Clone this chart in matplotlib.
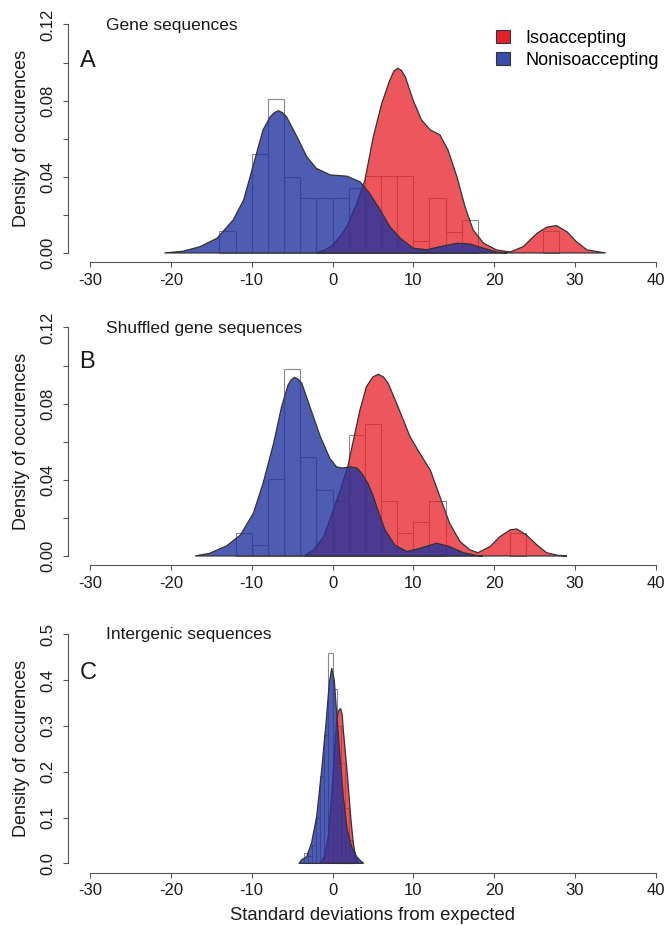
import matplotlib
matplotlib.use('Agg')
import matplotlib.pyplot as plt
from matplotlib.patches import Patch

plt.rcParams['font.family'] = ['Liberation Sans', 'DejaVu Sans']

# ---------------- data ----------------
series_names = ['Isoaccepting', 'Nonisoaccepting']
panel_titles = ['Gene sequences', 'Shuffled gene sequences', 'Intergenic sequences']
panel_letters = ['A', 'B', 'C']
x_ticks = [-30, -20, -10, 0, 10, 20, 30, 40]
ylabel = 'Density of occurences'
xlabel = 'Standard deviations from expected'

# Panel A density curves
a_iso_x = [-2.0, -1.0, 0.0, 1.0, 1.8, 3.0, 4.0, 5.05, 6.1, 7.1, 7.6, 8.07, 8.5, 9.0, 10.0, 11.0,
           12.1, 13.3, 14.3, 15.4, 16.4, 17.4, 18.7, 20.3, 22.0, 23.6, 25.3, 26.5, 27.7, 29.0,
           30.2, 31.5, 33.8]
a_iso_y = [0.0, 0.0015, 0.004, 0.009, 0.014, 0.026, 0.038, 0.061, 0.0786, 0.0908, 0.0955, 0.097,
           0.096, 0.0926, 0.080, 0.070, 0.0646, 0.062, 0.054, 0.040, 0.0243, 0.0121, 0.0051,
           0.0016, 0.0005, 0.0033, 0.0103, 0.0135, 0.0144, 0.0112, 0.0059, 0.0016, 0.0]
a_non_x = [-20.8, -18.5, -16.4, -14.3, -12.3, -11.0, -10.2, -9.4, -8.6, -7.7, -7.2, -6.7, -6.2,
           -5.7, -4.4, -3.2, -2.0, -0.3, 1.8, 3.4, 4.6, 5.9, 7.1, 8.4, 10.0, 11.7, 13.3, 15.4,
           17.0, 18.7, 20.3, 21.6]
a_non_y = [0.0, 0.0009, 0.0033, 0.0077, 0.0173, 0.0278, 0.040, 0.0523, 0.0646, 0.0716, 0.0737,
           0.0747, 0.0737, 0.0716, 0.0611, 0.0506, 0.0444, 0.0410, 0.0403, 0.0374, 0.0313,
           0.0226, 0.0138, 0.0077, 0.0025, 0.0017, 0.0033, 0.0051, 0.0047, 0.0025, 0.0005, 0.0]
# Panel A histograms (bin width 2)
a_non_bins = [-14, -12, -10, -8, -6, -4, -2, 0, 2]
a_non_hist = [0.0117, 0.0, 0.0518, 0.0806, 0.0401, 0.0288, 0.0288, 0.0288, 0.034]
a_iso_bins = [4, 6, 8, 10, 12, 14, 16, 26]
a_iso_hist = [0.0404, 0.0404, 0.0404, 0.0063, 0.0287, 0.0112, 0.0173, 0.0117]

# Panel B density curves
b_iso_x = [-3.5, -2.4, -1.1, 0.1, 1.0, 1.9, 2.6, 3.4, 4.2, 5.0, 5.67, 6.3, 6.9, 8.1, 9.6, 10.8,
           12.1, 13.3, 14.5, 15.8, 17.0, 18.0, 19.5, 20.7, 22.0, 22.8, 24.0, 25.3, 26.5, 27.8, 29.0]
b_iso_y = [0.0, 0.003, 0.010, 0.024, 0.035, 0.047, 0.061, 0.0767, 0.0889, 0.094, 0.0954, 0.094,
           0.0906, 0.0784, 0.0626, 0.0539, 0.0452, 0.0311, 0.0171, 0.0075, 0.0032, 0.0017,
           0.0049, 0.0101, 0.0137, 0.0142, 0.011, 0.0058, 0.0017, 0.0004, 0.0]
b_non_x = [-17.0, -15.2, -13.1, -11.4, -9.8, -8.6, -7.3, -6.3, -5.5, -5.1, -4.7, -4.25, -3.8,
           -2.8, -1.5, -0.3, 0.5, 1.2, 2.2, 3.0, 3.6, 4.4, 5.0, 5.5, 6.5, 7.7, 9.2, 10.8, 12.9,
           14.5, 16.2, 17.8, 18.6]
b_non_y = [0.0, 0.0014, 0.0053, 0.011, 0.0224, 0.038, 0.059, 0.0784, 0.0898, 0.0925, 0.0938,
           0.0928, 0.0907, 0.0784, 0.0626, 0.051, 0.0468, 0.0462, 0.0468, 0.0462, 0.0435, 0.038,
           0.032, 0.0255, 0.0137, 0.0058, 0.0023, 0.004, 0.0067, 0.0049, 0.0017, 0.0003, 0.0]
b_non_bins = [-12, -10, -8, -6, -4, -2, 0]
b_non_hist = [0.0119, 0.0058, 0.0404, 0.098, 0.0521, 0.0347, 0.0287]
b_iso_bins = [2, 4, 6, 8, 10, 12, 22]
b_iso_hist = [0.0635, 0.0691, 0.029, 0.0119, 0.0177, 0.029, 0.0119]

# Panel C density curves
c_iso_x = [-1.5, -1.0, -0.5, 0.0, 0.5, 0.75, 1.0, 1.2, 1.34, 1.83, 2.25, 2.57, 2.9, 3.2]
c_iso_y = [0.0, 0.015, 0.06, 0.17, 0.31, 0.333, 0.338, 0.325, 0.291, 0.196, 0.102, 0.044, 0.012, 0.0]
c_non_x = [-4.15, -3.8, -3.2, -2.6, -1.96, -1.34, -0.8, -0.4, -0.1, 0.22, 0.52, 0.93, 1.34,
           1.83, 2.37, 3.0, 3.5, 3.85]
c_non_y = [0.0, 0.008, 0.0145, 0.044, 0.102, 0.204, 0.306, 0.393, 0.426, 0.400, 0.327, 0.233,
           0.145, 0.073, 0.036, 0.0145, 0.005, 0.0]
c_non_bins = [-3.5, -3.0, -2.5, -2.0, -1.5, -1.0, -0.5, 0.0, 0.5, 1.0, 1.5, 2.0, 2.5]
c_non_hist = [0.023, 0.015, 0.04, 0.10, 0.19, 0.28, 0.46, 0.38, 0.22, 0.12, 0.06, 0.025, 0.012]
c_iso_bins = [0.5, 1.0, 1.5, 2.0]
c_iso_hist = [0.30, 0.22, 0.12, 0.05]

# ---------------- style ----------------
W, H = 667, 925
RED = '#E81E25'
BLUE = '#22339F'
RED_A, BLUE_A = 0.75, 0.8
LEG_RED = '#E3202A'
LEG_BLUE = '#3A4BA8'
EDGE = '#333333'
HIST_EDGE = '#8a8a8a'
AXIS_C = '#555555'
TXT = '#1a1a1a'

fig = plt.figure(figsize=(W / 100, H / 100), dpi=100)


def px_rect(x0, ytop, x1, ybot):
    return [x0 / W, 1 - ybot / H, (x1 - x0) / W, (ybot - ytop) / H]


panels = [
    dict(rect=px_rect(67.5, 15.3, 678.3, 262.1), ylim=(-0.0048, 0.1248),
         yticks=[0, 0.02, 0.04, 0.06, 0.08, 0.10, 0.12],
         ylabels=['0.00', '', '0.04', '', '0.08', '', '0.12'],
         iso=(a_iso_x, a_iso_y), non=(a_non_x, a_non_y),
         hist_non=(a_non_bins, a_non_hist, 2), hist_iso=(a_iso_bins, a_iso_hist, 2),
         title_y=0.1195, letter_y=0.101),
    dict(rect=px_rect(67.5, 318.3, 678.3, 565.1), ylim=(-0.0048, 0.1248),
         yticks=[0, 0.02, 0.04, 0.06, 0.08, 0.10, 0.12],
         ylabels=['0.00', '', '0.04', '', '0.08', '', '0.12'],
         iso=(b_iso_x, b_iso_y), non=(b_non_x, b_non_y),
         hist_non=(b_non_bins, b_non_hist, 2), hist_iso=(b_iso_bins, b_iso_hist, 2),
         title_y=0.1195, letter_y=0.102),
    dict(rect=px_rect(67.5, 625.1, 678.3, 872.5), ylim=(-0.02, 0.52),
         yticks=[0, 0.1, 0.2, 0.3, 0.4, 0.5],
         ylabels=['0.0', '0.1', '0.2', '0.3', '0.4', '0.5'],
         iso=(c_iso_x, c_iso_y), non=(c_non_x, c_non_y),
         hist_non=(c_non_bins, c_non_hist, 0.5), hist_iso=(c_iso_bins, c_iso_hist, 0.5),
         title_y=0.50, letter_y=0.415),
]

for i, p in enumerate(panels):
    ax = fig.add_axes(p['rect'])
    ax.set_xlim(-32.8, 42.8)
    ax.set_ylim(*p['ylim'])
    ax.patch.set_alpha(0)

    # histogram outlines
    for bins, h, w in (p['hist_non'], p['hist_iso']):
        ax.bar(bins, h, width=w, align='edge', fill=False, edgecolor=HIST_EDGE,
               linewidth=0.8, zorder=1)

    # densities
    ix, iy = p['iso']
    nx, ny = p['non']
    ax.fill_between(ix, iy, 0, facecolor=RED, alpha=RED_A, linewidth=0, zorder=2)
    ax.fill(ix + [ix[0]], iy + [iy[0]], fill=False, edgecolor=EDGE, linewidth=0.9, zorder=3)
    ax.fill_between(nx, ny, 0, facecolor=BLUE, alpha=BLUE_A, linewidth=0, zorder=4)
    ax.fill(nx + [nx[0]], ny + [ny[0]], fill=False, edgecolor=EDGE, linewidth=0.9, zorder=5)

    # axes styling (R like)
    for s in ('top', 'right'):
        ax.spines[s].set_visible(False)
    for s in ('left', 'bottom'):
        ax.spines[s].set_color(AXIS_C)
        ax.spines[s].set_linewidth(0.8)
    ax.spines['bottom'].set_bounds(-30, 40)
    ax.spines['left'].set_bounds(p['yticks'][0], p['yticks'][-1])
    ax.set_xticks(x_ticks)
    ax.set_xticklabels([str(t) for t in x_ticks])
    ax.set_yticks(p['yticks'])
    ax.set_yticklabels(p['ylabels'])
    ax.tick_params(axis='both', direction='out', length=3.5, width=0.8, color=AXIS_C,
                   labelsize=12, labelcolor=TXT)
    ax.tick_params(axis='x', pad=4)
    ax.tick_params(axis='y', pad=5, labelrotation=90)
    for lab in ax.get_yticklabels():
        lab.set_verticalalignment('center')

    # texts
    ax.text(-28.0, p['title_y'], panel_titles[i], fontsize=12.5, color=TXT,
            ha='left', va='center')
    ax.text(-31.3, p['letter_y'], panel_letters[i], fontsize=17, color=TXT,
            ha='left', va='center')
    ax.text(-0.075, 0.5, ylabel, transform=ax.transAxes, rotation=90, fontsize=13,
            color=TXT, ha='center', va='center')
    if i == 2:
        ax.text(0.5, -0.172, xlabel, transform=ax.transAxes, fontsize=13.3, color=TXT,
                ha='center', va='center')
    if i == 0:
        handles = [Patch(facecolor=LEG_RED, edgecolor=EDGE, linewidth=0.8),
                   Patch(facecolor=LEG_BLUE, edgecolor=EDGE, linewidth=0.8)]
        ax.legend(handles, series_names, loc='upper left',
                  bbox_to_anchor=(496 / W, 1 - 30 / H), bbox_transform=fig.transFigure,
                  frameon=False, fontsize=13, handlelength=0.75, handleheight=0.75,
                  handletextpad=0.9, labelspacing=0.25, borderpad=0, borderaxespad=0)

fig.savefig('out.png', dpi=100)
